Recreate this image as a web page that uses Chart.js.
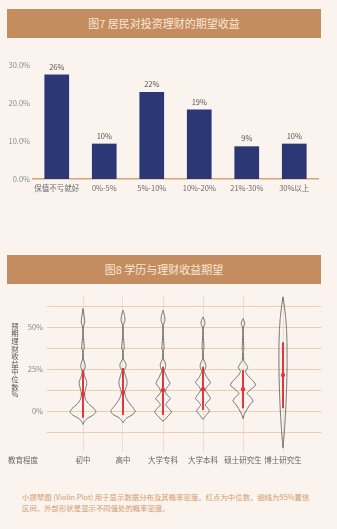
<!DOCTYPE html>
<html lang="zh">
<head>
<meta charset="UTF-8">
<title>图7 / 图8</title>
<script src="https://cdn.jsdelivr.net/npm/chart.js@4.4.0/dist/chart.umd.min.js"></script>
<style>
    body{
        margin:0;
        width:337px;
        height:529px;
        background:#FAF3EE;
        font-family:'Noto Sans CJK SC','Noto Sans',sans-serif;
        position:relative;
        overflow:hidden;
    }
    .band{
        position:absolute;
        left:7px;
        width:314px;
        height:29px;
        background:#C48D5F;
        color:#F8E7D8;
        font-size:11px;
        line-height:29px;
        text-align:center;
    }
    canvas{ position:absolute; left:0; }
    .xname{
        position:absolute;
        left:8px;
        top:454px;
        font-size:7.5px;
        color:#666;
    }
    .note{
        position:absolute;
        left:22px;
        top:491px;
        width:292px;
        font-size:7.4px;
        line-height:11px;
        color:#D49C6C;
    }
</style>
<script>
    // 图7 data
    const returnBands = ['保值不亏就好', '0%-5%', '5%-10%', '10%-20%', '21%-30%', '30%以上'];
    const returnShare = [27.5, 9.3, 22.9, 18.3, 8.6, 9.3];
    const returnShareLabels = ['26%', '10%', '22%', '19%', '9%', '10%'];

    // 图8 data
    const eduLevels = ['初中', '高中', '大学专科', '大学本科', '硕士研究生', '博士研究生'];
    const yAxisTitle = '预期理财收益中位数%';
    const medians = [10, 11, 12.5, 13, 13, 21.4];
    const ciLow = [-4, -2.4, -2.4, 0.6, 1.6, 1.6];
    const ciHigh = [24.4, 25.6, 26.4, 26.4, 24.4, 41];
    const yTickValues = [-12.5, 0, 12.5, 25, 37.5, 50, 62.5];
    const yLabelled = [0, 25, 50];

    // density profiles: [expected return %, density]
    const densJunior = [[61,0],[57,1],[53,1.8],[50,0.4],[45,0.3],[39,1.2],[37.5,1.3],[36,0.3],[31,0.4],[28,2],[26,2.2],[24,0.8],[21,1.5],[18,3.5],[16,3.8],[13,2.5],[10,1.5],[7,2.5],[4,6],[1.5,11],[-0.5,13],[-2.5,10],[-4.5,4],[-6.5,1],[-8,0]];
    const densSenior = [[60,0],[57,1.5],[54,2],[51,0.4],[45,0.3],[39,1.2],[37.5,1.3],[36,0.3],[31,0.5],[28,3],[26,2.8],[24,1],[21,2.5],[18,4],[16,4],[13,2.5],[11,1.5],[8,3],[5,6],[2,10],[0,12.3],[-2,10],[-4,4],[-6,1],[-7,0]];
    const densCollege = [[60,0],[57,1.5],[54,2],[51,0.4],[45,0.3],[39,1],[37.5,1.2],[36,0.3],[31,0.6],[28,2.7],[26,2.5],[24,1.2],[20,4],[16.5,7],[14,4],[11.5,2.2],[9,5],[7.5,7.5],[5.5,4.5],[3.6,2.5],[1.5,6],[-0.5,8.5],[-3,5],[-6,0]];
    const densBachelor = [[56,0],[54,1.5],[52,2],[49.5,0.4],[45,0.3],[39,0.9],[37.5,1],[36,0.3],[31,0.5],[28,2.7],[26,2.7],[23.5,1.2],[20,4],[17,7.5],[14.5,4],[12.5,2.3],[10,5],[7.5,7.5],[5.5,4.5],[3.6,2.3],[1.5,5],[0,6.5],[-2.5,3],[-5,0]];
    const densMaster = [[55,0],[53,1.5],[51.5,1.7],[50,0.4],[45,0.3],[39,0.7],[37,0.8],[35,0.3],[30,0.8],[28,3],[26,4.7],[23.5,2.5],[21,5],[18,10],[15.5,12.7],[13,8],[10.5,4],[8,8],[6,10],[3,6],[0,3],[-2.5,1],[-4.5,0]];
    const densDoctor = [[68,0],[62,1.5],[55,2.8],[48,3.6],[40,4],[30,4.1],[20,3.9],[12,3.5],[4,3],[-4,2.3],[-12,1.4],[-18,0.6],[-22,0]];
    const densities = [densJunior, densSenior, densCollege, densBachelor, densMaster, densDoctor];
</script>
</head>
<body>
    <div class="band" style="top:9px">图7 居民对投资理财的期望收益</div>
    <canvas id="bar" width="337" height="150" style="top:50px"></canvas>

    <div class="band" style="top:255px">图8 学历与理财收益期望</div>
    <canvas id="violin" width="337" height="184" style="top:286px"></canvas>
    <div class="xname">教育程度</div>

    <div class="note">小提琴图 (Violin Plot) 用于显示数据分布及其概率密度。红点为中位数，细线为95%置信区间，外部形状是显示不同值处的概率密度。</div>

<script>
    const FONT = "'Noto Sans CJK SC','Noto Sans',sans-serif";

    // labels above the bars
    const barLabels = {
        id: 'barLabels',
        afterDatasetsDraw(chart){
            const ctx = chart.ctx;
            const meta = chart.getDatasetMeta(0);
            ctx.save();
            ctx.font = '7.5px ' + FONT;
            ctx.fillStyle = '#555';
            ctx.textAlign = 'center';
            ctx.textBaseline = 'bottom';
            meta.data.forEach((bar, i) => {
                ctx.fillText(returnShareLabels[i], bar.x, bar.y - 4);
            });
            ctx.restore();
        }
    };

    new Chart(document.getElementById('bar'), {
        type: 'bar',
        data: {
            labels: returnBands,
            datasets: [{
                data: returnShare,
                backgroundColor: '#2C3875',
                barPercentage: 0.52,
                categoryPercentage: 1
            }]
        },
        options: {
            responsive: false,
            animation: false,
            layout: { padding: { top: 15, right: 19, left: 0, bottom: 0 } },
            plugins: { legend: { display: false }, tooltip: { enabled: false } },
            scales: {
                x: {
                    grid: { display: false, drawTicks: false },
                    border: { display: true, color: '#D9A373', width: 1.5 },
                    ticks: { font: { size: 7.5, family: FONT }, color: '#6b6b6b', padding: 5, maxRotation: 0, autoSkip: false },
                    afterFit(scale){ scale.height = 21; }
                },
                y: {
                    min: 0, max: 30,
                    grid: { display: false, drawTicks: false },
                    border: { display: false },
                    ticks: {
                        stepSize: 10,
                        font: { size: 7.5, family: FONT }, color: '#8a8a8a', padding: 3,
                        callback: v => v.toFixed(1) + '%'
                    },
                    afterFit(scale){ scale.width = 33; }
                }
            }
        },
        plugins: [barLabels]
    });

    // y title written top-to-bottom, one upright character per line
    const stackedTitle = {
        id: 'stackedTitle',
        afterDraw(chart){
            const ctx = chart.ctx;
            ctx.save();
            ctx.font = '7.4px ' + FONT;
            ctx.fillStyle = '#555';
            ctx.textAlign = 'center';
            ctx.textBaseline = 'middle';
            [...yAxisTitle].forEach((ch, k) => {
                ctx.fillText(ch, 15, 40 + k * 7.6);
            });
            ctx.restore();
        }
    };

    // violin chart
    const WIDTH_PER_DENSITY = 0.025;
    const datasets = [];

    datasets.push({
        data: medians.map((m, i) => ({ x: i, y: m })),
        pointRadius: 2.2,
        pointBackgroundColor: '#E0373A',
        pointBorderWidth: 0,
        showLine: false
    });

    eduLevels.forEach((name, i) => {
        datasets.push({
            data: [{ x: i, y: ciLow[i] }, { x: i, y: ciHigh[i] }],
            showLine: true,
            borderColor: '#E0373A',
            borderWidth: 2,
            pointRadius: 0
        });
    });

    densities.forEach((prof, i) => {
        const right = prof.map(p => ({ x: i + p[1] * WIDTH_PER_DENSITY, y: p[0] }));
        const left = prof.slice(1, -1).reverse().map(p => ({ x: i - p[1] * WIDTH_PER_DENSITY, y: p[0] }));
        const pts = right.concat(left);
        pts.push(right[0]);
        datasets.push({
            data: pts,
            showLine: true,
            borderColor: '#666',
            borderWidth: 0.9,
            pointRadius: 0,
            tension: 0.15,
            fill: false
        });
    });

    new Chart(document.getElementById('violin'), {
        type: 'scatter',
        data: { datasets: datasets },
        options: {
            responsive: false,
            animation: false,
            layout: { padding: { top: 10, right: 16, left: 0, bottom: 0 } },
            plugins: { legend: { display: false }, tooltip: { enabled: false } },
            scales: {
                x: {
                    type: 'linear',
                    min: -0.9, max: 5.95,
                    afterBuildTicks(scale){ scale.ticks = eduLevels.map((n, i) => ({ value: i })); },
                    grid: { color: '#EFDCCB', lineWidth: 1, drawTicks: false },
                    border: { display: false },
                    ticks: {
                        font: { size: 7.5, family: FONT }, color: '#666', padding: 3,
                        autoSkip: false, maxRotation: 0,
                        callback: v => eduLevels[v]
                    },
                    afterFit(scale){ scale.height = 17.8; }
                },
                y: {
                    min: -24.5, max: 68.5,
                    afterBuildTicks(scale){ scale.ticks = yTickValues.map(v => ({ value: v })); },
                    grid: { color: '#EDCDB0', lineWidth: 1, drawTicks: false },
                    border: { display: false },
                    ticks: {
                        font: { size: 7.5, family: FONT }, color: '#888', padding: 4,
                        callback: v => yLabelled.includes(v) ? v + '%' : ''
                    },
                    afterFit(scale){ scale.width = 47; }
                }
            }
        },
        plugins: [stackedTitle]
    });
</script>
</body>
</html>
